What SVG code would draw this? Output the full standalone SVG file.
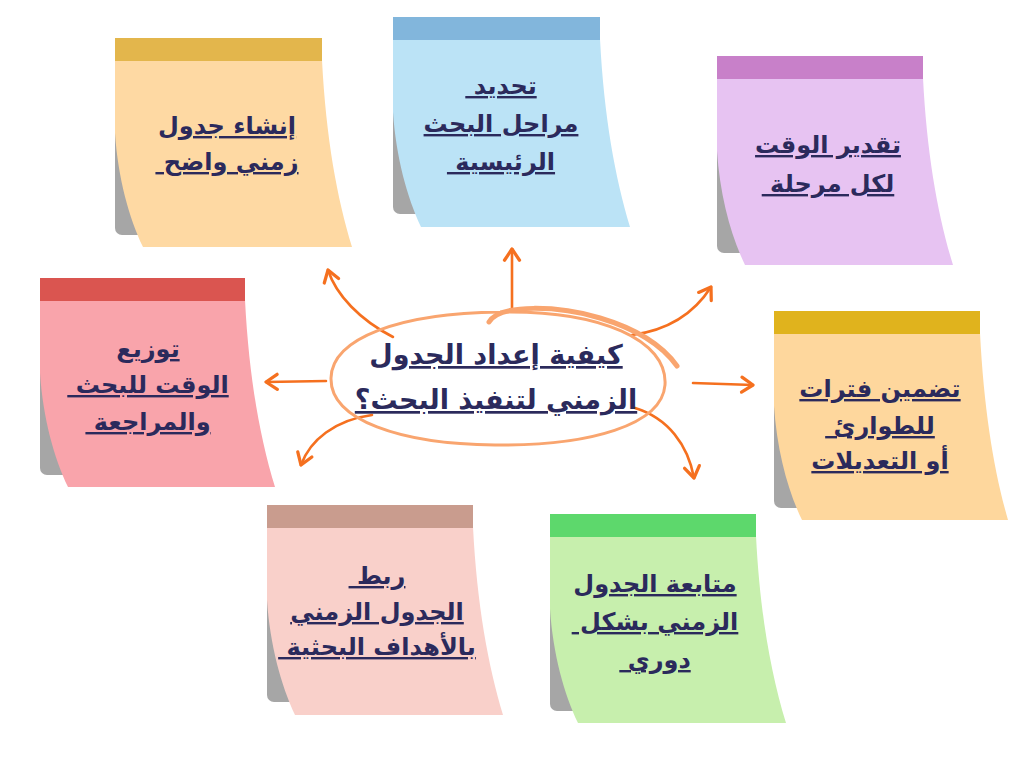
<svg xmlns="http://www.w3.org/2000/svg" width="1024" height="768" viewBox="0 0 1024 768">
<style>
.shadow{fill:#a6a6a6}
.t{font-family:"DejaVu Sans","Noto Sans",sans-serif;font-weight:bold;font-size:24px;fill:#2b2a5c;text-anchor:middle;text-decoration:underline;white-space:pre}
.ct{font-family:"DejaVu Sans","Noto Sans",sans-serif;font-weight:bold;font-size:27px;fill:#2b2a5c;text-anchor:middle;text-decoration:underline;white-space:pre}
.arr{fill:none;stroke:#f5701f;stroke-width:2.6;stroke-linecap:round;marker-end:url(#ah)}
</style>
<defs>
<marker id="ah" markerUnits="userSpaceOnUse" markerWidth="20" markerHeight="20" refX="0" refY="0" viewBox="-12 -8 14 16" orient="auto">
<path d="M-9,-6 L0,0 L-9,6" fill="none" stroke="#f5701f" stroke-width="2.6" stroke-linecap="round" stroke-linejoin="round"/>
</marker>
<g id="noteShape">
<rect class="shadow" x="0" y="20" width="42" height="177" rx="7"/>
</g>
</defs>
<rect width="1024" height="768" fill="#ffffff"/>

<g id="connectors">
<path class="arr" d="M393,337 C360,320 336,295 328,270"/>
<path class="arr" d="M512,310 L512,249"/>
<path class="arr" d="M632,335 C670,330 695,312 711,287"/>
<path class="arr" d="M693,383 L753,385"/>
<path class="arr" d="M635,408 C668,418 688,445 694,478"/>
<path class="arr" d="M326,381 L266,382"/>
<path class="arr" d="M372,415 C335,420 310,440 301,465"/>
</g>

<g id="center">
<path d="M500,312 C600,310 668,340 665,385 C662,425 590,446 495,445 C400,444 330,420 331,378 C332,338 400,313 500,312" fill="none" stroke="#f9a56f" stroke-width="3"/>
<path d="M489,322 C500,303 560,306 600,318 C630,327 660,342 677,366" fill="none" stroke="#f9a56f" stroke-width="5" stroke-linecap="round"/>
<text class="ct" direction="rtl" x="496" y="364">كيفية إعداد الجدول</text>
<text class="ct" direction="rtl" x="496" y="409">الزمني لتنفيذ البحث؟</text>
</g>

<g id="n1" transform="translate(115,38)">
<use href="#noteShape"/>
<path d="M0,22 L207,22 C211,100 222,160 237,209 L28,209 C14,180 3,140 0,95 Z" fill="#fed9a3"/>
<rect x="0" y="0" width="207" height="23" fill="#e3b64c"/>
<text class="t" direction="rtl" x="112" y="96">إنشاء جدول</text>
<text class="t" direction="rtl" x="112" y="132">زمني واضح </text>
</g>

<g id="n2" transform="translate(393,17)">
<use href="#noteShape"/>
<path d="M0,22 L207,22 C211,100 222,160 237,210 L28,210 C14,180 3,140 0,95 Z" fill="#bbe3f6"/>
<rect x="0" y="0" width="207" height="23" fill="#82b6dc"/>
<text class="t" direction="rtl" x="108" y="77">تحديد </text>
<text class="t" direction="rtl" x="108" y="115">مراحل البحث</text>
<text class="t" direction="rtl" x="108" y="153">الرئيسية </text>
</g>

<g id="n3" transform="translate(717,56)">
<use href="#noteShape"/>
<path d="M0,22 L206,22 C210,100 221,160 236,209 L28,209 C14,180 3,140 0,95 Z" fill="#e7c3f2"/>
<rect x="0" y="0" width="206" height="23" fill="#c880c9"/>
<text class="t" direction="rtl" x="111" y="97">تقدير الوقت</text>
<text class="t" direction="rtl" x="111" y="136">لكل مرحلة </text>
</g>

<g id="n4" transform="translate(774,311)">
<use href="#noteShape"/>
<path d="M0,22 L206,22 C210,100 220,160 234,209 L28,209 C14,180 3,140 0,95 Z" fill="#fed79d"/>
<rect x="0" y="0" width="206" height="23" fill="#e0b31d"/>
<text class="t" direction="rtl" x="106" y="86">تضمين فترات</text>
<text class="t" direction="rtl" x="106" y="123">للطوارئ </text>
<text class="t" direction="rtl" x="106" y="158">أو التعديلات</text>
</g>

<g id="n5" transform="translate(40,278)">
<use href="#noteShape"/>
<path d="M0,22 L205,22 C209,100 220,160 235,209 L28,209 C14,180 3,140 0,95 Z" fill="#f9a4ab"/>
<rect x="0" y="0" width="205" height="23" fill="#da5550"/>
<text class="t" direction="rtl" x="108" y="79">توزيع</text>
<text class="t" direction="rtl" x="108" y="115">الوقت للبحث </text>
<text class="t" direction="rtl" x="108" y="152">والمراجعة </text>
</g>

<g id="n6" transform="translate(267,505)">
<use href="#noteShape"/>
<path d="M0,22 L206,22 C210,100 221,160 236,210 L28,210 C14,180 3,140 0,95 Z" fill="#f9d0ca"/>
<rect x="0" y="0" width="206" height="23" fill="#c99c8e"/>
<text class="t" direction="rtl" x="110" y="79">ربط </text>
<text class="t" direction="rtl" x="110" y="115">الجدول الزمني</text>
<text class="t" direction="rtl" x="110" y="150">بالأهداف البحثية </text>
</g>

<g id="n7" transform="translate(550,514)">
<use href="#noteShape"/>
<path d="M0,22 L206,22 C210,100 221,160 236,209 L28,209 C14,180 3,140 0,95 Z" fill="#c7efad"/>
<rect x="0" y="0" width="206" height="23" fill="#5dd86c"/>
<text class="t" direction="rtl" x="105" y="78">متابعة الجدول</text>
<text class="t" direction="rtl" x="105" y="116">الزمني بشكل </text>
<text class="t" direction="rtl" x="105" y="154">دوري </text>
</g>
</svg>
